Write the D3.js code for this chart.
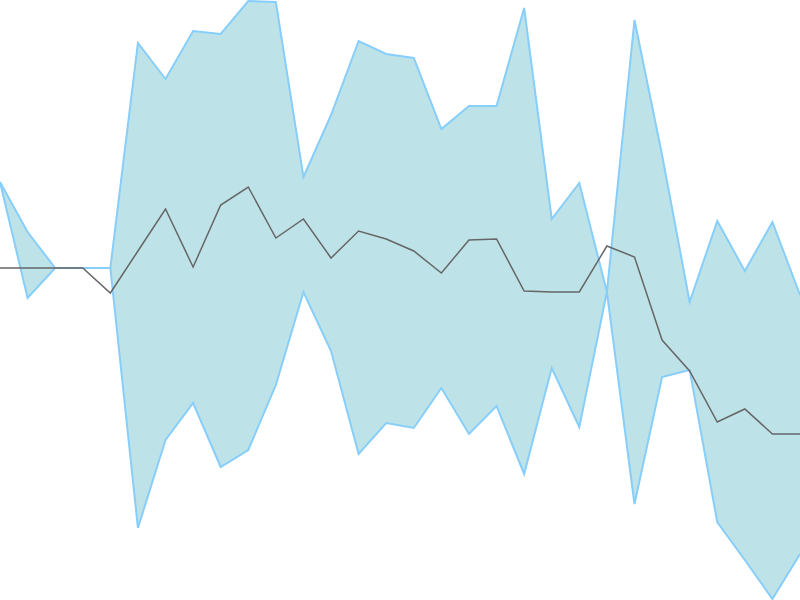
<!DOCTYPE html>
<html>
<head>
<meta charset="utf-8">
<script src="https://cdn.jsdelivr.net/npm/d3@7"></script>
<style>
  html, body { margin: 0; padding: 0; background: #fff; }
  svg { display: block; }
</style>
</head>
<body>
<svg id="chart" width="800" height="600"></svg>
<script>
// Values expressed in chart units (higher = further up)
const indices = d3.range(30);
const upperValues = [418, 368, 332, 332, 332, 557, 521, 569, 566, 599, 598, 423, 485, 559, 546, 542, 471, 494, 494, 592, 381, 417, 308, 580, 445, 298, 379, 329, 378, 305];
const lowerValues = [418, 302, 332, 332, 332, 72, 160, 197, 133, 150, 215, 308, 249, 146, 177, 172, 212, 166, 194, 126, 232, 173, 308, 96, 223, 230, 78, 40, 1, 46];
const centerValues = [332, 332, 332, 332, 307, 349, 391, 333, 395, 413, 362, 381, 342, 369, 361, 349, 327, 360, 361, 309, 308, 308, 354, 343, 260, 229, 178, 191, 166, 166];

const width = 800, height = 600;
const svg = d3.select("#chart");

const x = d3.scaleLinear().domain([0, indices.length - 1]).range([0, width]);
const y = d3.scaleLinear().domain([0, 600]).range([height, 0]);

const rows = indices.map(i => ({ i, hi: upperValues[i], lo: lowerValues[i], c: centerValues[i] }));

const area = d3.area()
  .x(d => x(d.i))
  .y0(d => y(d.lo))
  .y1(d => y(d.hi));

svg.append("path")
  .datum(rows)
  .attr("d", area)
  .attr("fill", "#bde3e8")
  .attr("stroke", "none");

const upperLine = d3.line().x(d => x(d.i)).y(d => y(d.hi));
const lowerLine = d3.line().x(d => x(d.i)).y(d => y(d.lo));
const centerLine = d3.line().x(d => x(d.i)).y(d => y(d.c));

svg.append("path").datum(rows).attr("d", upperLine)
  .attr("fill", "none").attr("stroke", "#87cefa").attr("stroke-width", 2);
svg.append("path").datum(rows).attr("d", lowerLine)
  .attr("fill", "none").attr("stroke", "#87cefa").attr("stroke-width", 2);
svg.append("path").datum(rows).attr("d", centerLine)
  .attr("fill", "none").attr("stroke", "#666666").attr("stroke-width", 1.5);
</script>
</body>
</html>
